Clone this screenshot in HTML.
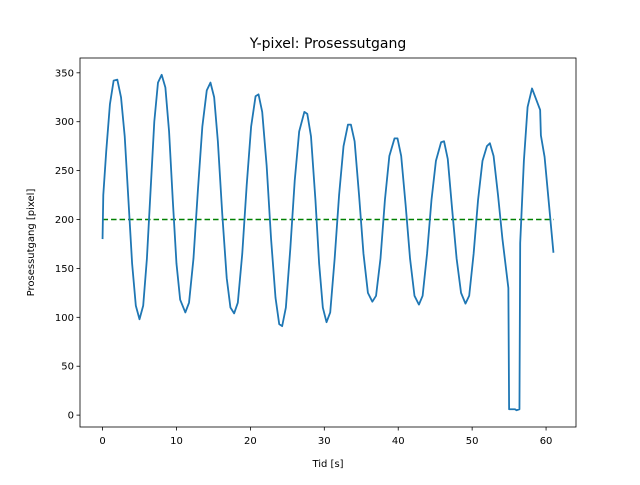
<!DOCTYPE html>
<html><head><meta charset="utf-8"><style>body{margin:0;background:#fff}svg{font-family:"DejaVu Sans","Liberation Sans",sans-serif}</style></head>
<body>
<svg id="c" width="640" height="480"></svg>
<script>
const times=[0,0.1,0.5,1.0,1.5,2.0,2.5,3.0,3.5,4.0,4.5,5.0,5.5,6.0,6.5,7.0,7.5,8.0,8.5,9.0,9.5,10.0,10.5,11.2,11.7,12.3,12.9,13.5,14.1,14.6,15.1,15.6,16.2,16.8,17.3,17.8,18.3,18.9,19.5,20.1,20.7,21.1,21.6,22.2,22.8,23.4,23.9,24.3,24.8,25.4,26.0,26.6,27.3,27.7,28.2,28.8,29.3,29.8,30.3,30.8,31.4,32.0,32.6,33.2,33.6,34.1,34.7,35.3,35.9,36.5,37.0,37.6,38.2,38.8,39.5,39.9,40.4,41.0,41.6,42.2,42.8,43.3,43.9,44.5,45.1,45.8,46.2,46.7,47.3,47.9,48.5,49.1,49.6,50.2,50.8,51.4,52.0,52.4,52.9,53.5,54.1,54.9,55.0,55.8,56.0,56.4,56.5,57.0,57.5,58.1,59.2,59.3,59.8,61.0];
const values=[180,225,270,318,342,343,325,285,220,155,112,98,112,160,230,300,340,348,335,290,220,155,118,105,115,160,230,295,332,340,325,280,205,140,110,104,115,165,235,295,326,328,310,255,180,120,93,91,110,170,240,290,310,308,285,220,155,110,95,105,160,225,275,297,297,280,225,165,125,116,122,160,220,265,283,283,265,215,160,122,113,122,165,220,260,279,280,262,210,160,125,114,122,165,220,260,275,278,265,225,180,130,6,6,5,6,176,260,315,334,312,286,264,166];
const setpoint=200, spStart=0, spEnd=61;
const xTicks=[0,10,20,30,40,50,60];
const yTicks=[0,50,100,150,200,250,300,350];
const L=80,R=576,T=58,B=427,xmin=-3.05,xmax=64.05,ymin=-12.15,ymax=365.15;
const X=v=>L+(v-xmin)/(xmax-xmin)*(R-L), Y=v=>B-(v-ymin)/(ymax-ymin)*(B-T);
const s=document.getElementById('c');const NS='http://www.w3.org/2000/svg';
function el(t,a,p){const e=document.createElementNS(NS,t);for(const k in a)e.setAttribute(k,a[k]);(p||s).appendChild(e);return e;}
const title=el('text',{x:328,y:48,'text-anchor':'middle','font-size':14});title.textContent='Y-pixel: Prosessutgang';


xTicks.forEach(v=>{const g=el('g',{});


el('line',{x1:X(v),x2:X(v),y1:B,y2:B+3.5,stroke:'#000','stroke-width':0.8},g);
const t=el('text',{x:X(v),y:B+17,'text-anchor':'middle','font-size':10},g);t.textContent=v;});
yTicks.forEach(v=>{const g=el('g',{});


el('line',{x1:L-3.5,x2:L,y1:Y(v),y2:Y(v),stroke:'#000','stroke-width':0.8},g);
const t=el('text',{x:L-6,y:Y(v)+3.5,'text-anchor':'end','font-size':10},g);t.textContent=v;});
const xl=el('text',{x:328,y:467,'text-anchor':'middle','font-size':10});xl.textContent='Tid [s]';


const yl=el('text',{x:0,y:0,'text-anchor':'middle','font-size':10,transform:`translate(34,${(T+B)/2}) rotate(-90)`});yl.textContent='Prosessutgang [pixel]';


const sp=el('line',{x1:X(spStart),x2:X(spEnd),y1:Y(setpoint),y2:Y(setpoint),stroke:'#008000','stroke-width':1.5,'stroke-dasharray':'5.5,3'});


const pl=el('polyline',{points:times.map((t,i)=>X(t)+','+Y(values[i])).join(' '),fill:'none',stroke:'#1f77b4','stroke-width':1.8,'stroke-linejoin':'round'});


const fr=el('rect',{x:L,y:T,width:R-L,height:B-T,fill:'none',stroke:'#000','stroke-width':0.8});


</script>
</body></html>
